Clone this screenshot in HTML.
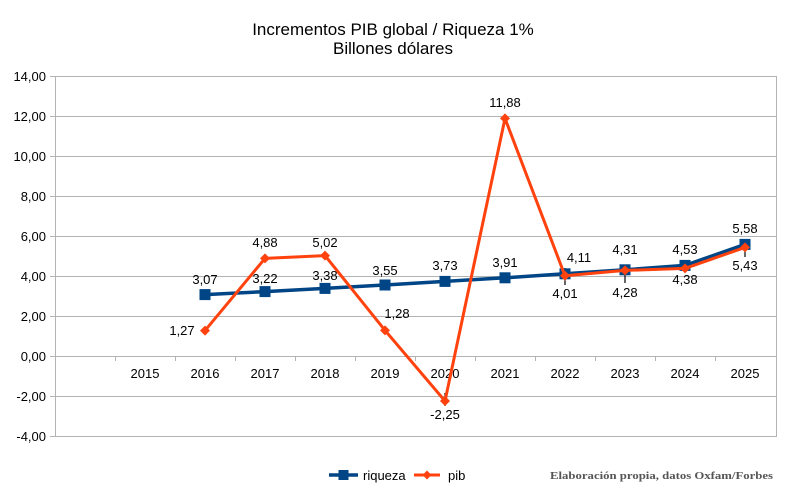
<!DOCTYPE html>
<html><head><meta charset="utf-8"><style>
html,body{margin:0;padding:0;background:#fff;}
svg{display:block;}
text{font-family:"Liberation Sans",Arial,sans-serif;fill:#000;}
</style></head><body>
<svg width="795" height="487" viewBox="0 0 795 487" xmlns="http://www.w3.org/2000/svg">
<rect width="795" height="487" fill="#fff"/>
<text x="393" y="35" font-size="17" text-anchor="middle">Incrementos PIB global / Riqueza 1%</text>
<text x="393" y="54" font-size="17" text-anchor="middle">Billones dólares</text>
<g stroke="#b3b3b3" stroke-width="1" fill="none">
<line x1="50" y1="76.5" x2="776" y2="76.5"/>
<line x1="50" y1="116.5" x2="776" y2="116.5"/>
<line x1="50" y1="156.5" x2="776" y2="156.5"/>
<line x1="50" y1="196.5" x2="776" y2="196.5"/>
<line x1="50" y1="236.5" x2="776" y2="236.5"/>
<line x1="50" y1="276.5" x2="776" y2="276.5"/>
<line x1="50" y1="316.5" x2="776" y2="316.5"/>
<line x1="50" y1="356.5" x2="776" y2="356.5"/>
<line x1="50" y1="396.5" x2="776" y2="396.5"/>
<line x1="50" y1="436.5" x2="776" y2="436.5"/>
<line x1="55.5" y1="76" x2="55.5" y2="437"/>
<line x1="776.5" y1="76" x2="776.5" y2="437"/>
<line x1="115.5" y1="356" x2="115.5" y2="361"/>
<line x1="175.5" y1="356" x2="175.5" y2="361"/>
<line x1="235.5" y1="356" x2="235.5" y2="361"/>
<line x1="295.5" y1="356" x2="295.5" y2="361"/>
<line x1="355.5" y1="356" x2="355.5" y2="361"/>
<line x1="415.5" y1="356" x2="415.5" y2="361"/>
<line x1="475.5" y1="356" x2="475.5" y2="361"/>
<line x1="535.5" y1="356" x2="535.5" y2="361"/>
<line x1="595.5" y1="356" x2="595.5" y2="361"/>
<line x1="655.5" y1="356" x2="655.5" y2="361"/>
<line x1="715.5" y1="356" x2="715.5" y2="361"/>
</g>
<g font-size="13" text-anchor="end">
<text x="46" y="81">14,00</text>
<text x="46" y="121">12,00</text>
<text x="46" y="161">10,00</text>
<text x="46" y="201">8,00</text>
<text x="46" y="241">6,00</text>
<text x="46" y="281">4,00</text>
<text x="46" y="321">2,00</text>
<text x="46" y="361">0,00</text>
<text x="46" y="401">-2,00</text>
<text x="46" y="441">-4,00</text>
</g>
<g font-size="13" text-anchor="middle">
<text x="145" y="378">2015</text>
<text x="205" y="378">2016</text>
<text x="265" y="378">2017</text>
<text x="325" y="378">2018</text>
<text x="385" y="378">2019</text>
<text x="445" y="378">2020</text>
<text x="505" y="378">2021</text>
<text x="565" y="378">2022</text>
<text x="625" y="378">2023</text>
<text x="685" y="378">2024</text>
<text x="745" y="378">2025</text>
</g>
<g stroke="#000" stroke-width="1.2">
<line x1="445" y1="393" x2="445" y2="406"/>
<line x1="565" y1="268" x2="565" y2="285"/>
<line x1="625" y1="267" x2="625" y2="283"/>
<line x1="745" y1="242" x2="745" y2="257"/>
</g>
<polyline fill="none" stroke="#004586" stroke-width="3.5" stroke-linejoin="round" points="205,294.6 265,291.6 325,288.4 385,285 445,281.4 505,277.8 565,273.8 625,269.8 685,265.4 745,244.4"/>
<g fill="#004586">
<rect x="199.5" y="289.1" width="11" height="11"/>
<rect x="259.5" y="286.1" width="11" height="11"/>
<rect x="319.5" y="282.9" width="11" height="11"/>
<rect x="379.5" y="279.5" width="11" height="11"/>
<rect x="439.5" y="275.9" width="11" height="11"/>
<rect x="499.5" y="272.3" width="11" height="11"/>
<rect x="559.5" y="268.3" width="11" height="11"/>
<rect x="619.5" y="264.3" width="11" height="11"/>
<rect x="679.5" y="259.9" width="11" height="11"/>
<rect x="739.5" y="238.9" width="11" height="11"/>
</g>
<polyline fill="none" stroke="#ff420e" stroke-width="3" stroke-linejoin="round" points="205,330.6 265,258.4 325,255.6 385,330.4 445,401 505,118.4 565,275.8 625,270.4 685,268.4 745,247.4"/>
<g fill="#ff420e">
<polygon points="205,325.6 210,330.6 205,335.6 200,330.6"/>
<polygon points="265,253.4 270,258.4 265,263.4 260,258.4"/>
<polygon points="325,250.6 330,255.6 325,260.6 320,255.6"/>
<polygon points="385,325.4 390,330.4 385,335.4 380,330.4"/>
<polygon points="445,396 450,401 445,406 440,401"/>
<polygon points="505,113.4 510,118.4 505,123.4 500,118.4"/>
<polygon points="565,270.8 570,275.8 565,280.8 560,275.8"/>
<polygon points="625,265.4 630,270.4 625,275.4 620,270.4"/>
<polygon points="685,263.4 690,268.4 685,273.4 680,268.4"/>
<polygon points="745,242.4 750,247.4 745,252.4 740,247.4"/>
</g>
<g font-size="13" text-anchor="middle">
<text x="205" y="284">3,07</text>
<text x="265" y="283">3,22</text>
<text x="325" y="280">3,38</text>
<text x="385" y="275">3,55</text>
<text x="445" y="270">3,73</text>
<text x="505" y="267">3,91</text>
<text x="579" y="262">4,11</text>
<text x="625" y="254">4,31</text>
<text x="685" y="254">4,53</text>
<text x="745" y="233">5,58</text>
</g>
<g font-size="13" text-anchor="middle">
<text x="182" y="335">1,27</text>
<text x="265" y="247">4,88</text>
<text x="325" y="247">5,02</text>
<text x="397" y="318">1,28</text>
<text x="445" y="419">-2,25</text>
<text x="505" y="107">11,88</text>
<text x="565" y="298">4,01</text>
<text x="625" y="297">4,28</text>
<text x="685" y="284">4,38</text>
<text x="745" y="270">5,43</text>
</g>
<line x1="329" y1="475" x2="358" y2="475" stroke="#004586" stroke-width="3.5"/>
<rect x="338.5" y="470" width="10" height="10" fill="#004586"/>
<text x="363" y="480" font-size="13">riqueza</text>
<line x1="414" y1="475" x2="440" y2="475" stroke="#ff420e" stroke-width="3"/>
<polygon points="427,470.5 431.5,475 427,479.5 422.5,475" fill="#ff420e"/>
<text x="448" y="480" font-size="13">pib</text>
<text x="550" y="479" font-size="11" font-weight="bold" style="font-family:'Liberation Serif','DejaVu Serif',serif;fill:#555" textLength="223" lengthAdjust="spacingAndGlyphs">Elaboración propia, datos Oxfam/Forbes</text>
</svg>
</body></html>
